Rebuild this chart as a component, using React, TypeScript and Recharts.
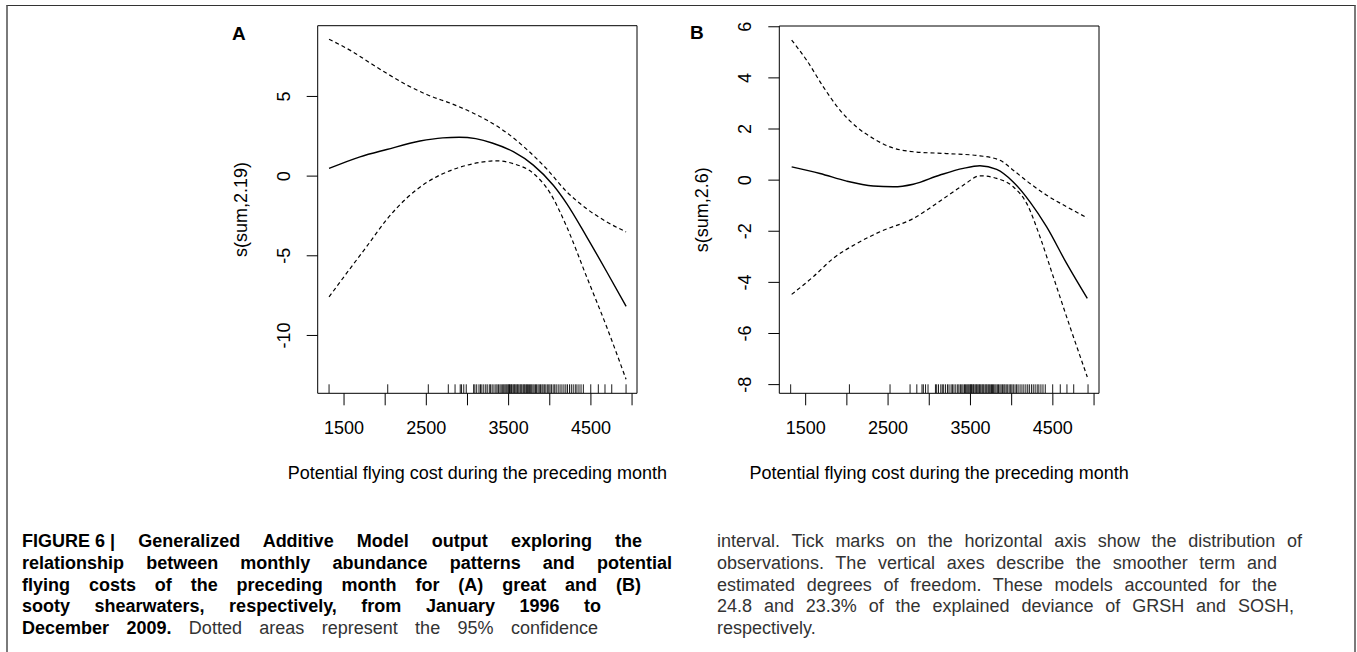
import React from "react";
import {
  ComposedChart, Line, Scatter, XAxis, YAxis, ReferenceArea, Label,
} from "recharts";

// x positions of the observations (rug along the bottom of both panels)
const rugX = [
  1318, 2031, 2524, 2767, 2849, 2912, 2928, 2955, 2985, 3075, 3090, 3112, 3140, 3158,
  3175, 3198, 3222, 3240, 3265, 3281, 3300, 3322, 3345, 3360, 3378, 3395, 3410, 3428,
  3441, 3455, 3468, 3480, 3493, 3502, 3511, 3520, 3533, 3541, 3556, 3568, 3577, 3590,
  3603, 3612, 3625, 3640, 3651, 3662, 3678, 3690, 3701, 3716, 3728, 3740, 3755, 3768,
  3781, 3796, 3810, 3826, 3840, 3857, 3872, 3888, 3905, 3918, 3934, 3952, 3970, 3988,
  4003, 4020, 4041, 4060, 4078, 4102, 4125, 4148, 4172, 4195, 4215, 4240, 4262, 4285,
  4310, 4330, 4355, 4380, 4408, 4498, 4590, 4671, 4753, 4927,
];

const xTicks = [1500, 2000, 2500, 3000, 3500, 4000, 4500, 5000];
const xLabelled = [1500, 2500, 3500, 4500];
const yTicksA = [-10, -5, 0, 5];
const yTicksB = [-8, -6, -4, -2, 0, 2, 4, 6];

// panel A: great shearwater
const fitAx = [1318, 1694, 2019, 2423, 2700, 2900, 3100, 3300, 3557, 3800, 4043, 4206, 4449, 4692, 4927];
const fitAy = [0.48, 1.21, 1.67, 2.2, 2.4, 2.44, 2.35, 2.08, 1.53, 0.69, -0.57, -1.72, -3.81, -6.0, -8.17];
const upAx = [1318, 1613, 1816, 2019, 2262, 2505, 2828, 3031, 3234, 3477, 3720, 3963, 4206, 4449, 4692, 4927];
const upAy = [8.59, 7.78, 7.1, 6.45, 5.72, 5.12, 4.5, 4.05, 3.52, 2.72, 1.68, 0.45, -0.98, -2.05, -2.87, -3.5];
const loAx = [1318, 1529, 1772, 2019, 2262, 2505, 2828, 3071, 3355, 3557, 3800, 4003, 4206, 4449, 4692, 4927];
const loAy = [-7.58, -6.11, -4.44, -2.72, -1.38, -0.4, 0.42, 0.78, 0.96, 0.78, 0.17, -1.05, -3.18, -6.33, -9.47, -12.75];

// panel B: sooty shearwater
const fitBx = [1330, 1674, 1998, 2320, 2563, 2806, 3130, 3413, 3615, 3818, 4019, 4222, 4425, 4667, 4918];
const fitBy = [0.52, 0.26, -0.04, -0.23, -0.26, -0.16, 0.2, 0.46, 0.56, 0.42, -0.07, -0.85, -1.83, -3.26, -4.63];
const upBx = [1330, 1512, 1714, 1916, 2119, 2320, 2523, 2806, 3211, 3615, 3858, 4019, 4222, 4425, 4667, 4918];
const upBy = [5.48, 4.69, 3.65, 2.74, 2.08, 1.63, 1.3, 1.11, 1.04, 0.95, 0.78, 0.39, -0.13, -0.59, -1.04, -1.48];
const loBx = [1330, 1592, 1835, 2119, 2402, 2806, 3090, 3413, 3615, 3818, 4019, 4182, 4344, 4505, 4708, 4918];
const loBy = [-4.47, -3.78, -3.06, -2.48, -2.02, -1.5, -0.91, -0.2, 0.17, 0.07, -0.26, -0.91, -2.22, -3.78, -5.74, -7.7];

const FONT = "'Liberation Sans', Arial, Helvetica, sans-serif";
const X_DOMAIN: [number, number] = [1180, 5060];

const zip = (xs: number[], ys: number[]) => xs.map((x, i) => ({ x, y: ys[i] }));

const XTick = (props: any) => {
  const { x, y, payload } = props;
  if (!xLabelled.includes(payload.value)) return null;
  return (
    <text x={x} y={y + 29} textAnchor="middle" fontSize={18} fontFamily={FONT} fill="#000">
      {payload.value}
    </text>
  );
};

const YTick = (props: any) => {
  const { x, y, payload } = props;
  const bx = x - 17;
  return (
    <text x={bx} y={y} transform={`rotate(-90, ${bx}, ${y})`} textAnchor="middle"
      fontSize={18} fontFamily={FONT} fill="#000">
      {payload.value}
    </text>
  );
};

function GamPanel({ fit, upper, lower, yDomain, yTicks, yTitle, width, margin }: any) {
  const rug = rugX.map((x) => ({ x, y: yDomain[0] }));
  return (
    <ComposedChart width={width} height={500} margin={margin}>
      <XAxis dataKey="x" type="number" domain={X_DOMAIN} allowDataOverflow ticks={xTicks}
        interval={0} tickSize={12} tickMargin={0} axisLine={false}
        tickLine={{ stroke: "#000", strokeWidth: 1 }} tick={<XTick />} height={60}>
        <Label content={(p: any) => {
          const vb = p.viewBox || {};
          return (
            <text x={vb.x + vb.width / 2} y={vb.y + 86} textAnchor="middle" fontSize={18}
              fontFamily={FONT} fill="#000">
              Potential flying cost during the preceding month
            </text>
          );
        }} />
      </XAxis>
      <YAxis dataKey="y" type="number" domain={yDomain} allowDataOverflow ticks={yTicks}
        interval={0} tickSize={11} tickMargin={0} axisLine={false}
        tickLine={{ stroke: "#000", strokeWidth: 1 }} tick={<YTick />} width={60}>
        <Label content={(p: any) => {
          const vb = p.viewBox || {};
          const bx = vb.x + vb.width - 71;
          const cy = vb.y + vb.height / 2;
          return (
            <text x={bx} y={cy} transform={`rotate(-90, ${bx}, ${cy})`} textAnchor="middle"
              fontSize={18} fontFamily={FONT} fill="#000">
              {yTitle}
            </text>
          );
        }} />
      </YAxis>
      <ReferenceArea x1={X_DOMAIN[0]} x2={X_DOMAIN[1]} y1={yDomain[0]} y2={yDomain[1]}
        fill="none" stroke="#000" strokeWidth={1} fillOpacity={0} />
      <Scatter data={rug} dataKey="y" isAnimationActive={false}
        shape={(p: any) => (
          <line x1={p.cx} x2={p.cx} y1={p.cy} y2={p.cy - 9} stroke="#000" strokeWidth={0.9} />
        )} />
      <Line data={upper} dataKey="y" type="monotone" stroke="#000" strokeWidth={1.2}
        strokeDasharray="4 3" dot={false} isAnimationActive={false} />
      <Line data={lower} dataKey="y" type="monotone" stroke="#000" strokeWidth={1.2}
        strokeDasharray="4 3" dot={false} isAnimationActive={false} />
      <Line data={fit} dataKey="y" type="monotone" stroke="#000" strokeWidth={1.4}
        dot={false} isAnimationActive={false} />
    </ComposedChart>
  );
}

// k: keep the spacing inside this piece as it is (not stretched by justification)
const leftLines = [
  { w: 620, parts: [{ t: "FIGURE 6 |", b: true, k: true }, { t: " Generalized Additive Model output exploring the", b: true }] },
  { w: 650, parts: [{ t: "relationship between monthly abundance patterns and potential", b: true }] },
  { w: 619, parts: [{ t: "flying costs of the preceding month for (A) great and (B)", b: true }] },
  { w: 579, parts: [{ t: "sooty shearwaters, respectively, from January 1996 to", b: true }] },
  { w: 576, parts: [{ t: "December 2009.", b: true }, { t: " Dotted areas represent the 95% confidence", b: false }] },
];
const rightLines = [
  { w: 585, parts: [{ t: "interval. Tick marks on the horizontal axis show the distribution of", b: false }] },
  { w: 560, parts: [{ t: "observations. The vertical axes describe the smoother term and", b: false }] },
  { w: 560, parts: [{ t: "estimated degrees of freedom. These models accounted for the", b: false }] },
  { w: 577, parts: [{ t: "24.8 and 23.3% of the explained deviance of GRSH and SOSH,", b: false }] },
  { w: 0, parts: [{ t: "respectively.", b: false }] },
];

function Caption({ lines, left }: any) {
  return (
    <div style={{ position: "absolute", left, top: 531, fontFamily: FONT, fontSize: 18 }}>
      {lines.map((ln: any, i: number) => (
        <div key={i} style={{
          width: ln.w || undefined, height: 21.75, lineHeight: "21.75px",
          textAlign: ln.w ? "justify" : "left", textAlignLast: ln.w ? "justify" : "auto",
          whiteSpace: ln.w ? "normal" : "nowrap",
        }}>
          {ln.parts.map((p: any, j: number) => (
            <span key={j} style={{
              fontWeight: p.b ? 700 : 400, color: p.b ? "#000" : "#333",
              display: p.k ? "inline-block" : "inline", whiteSpace: p.k ? "pre" : undefined,
            }}>{p.t}</span>
          ))}
        </div>
      ))}
    </div>
  );
}

export default function App() {
  return (
    <div style={{ position: "fixed", left: 0, top: 0, width: 1357, height: 652, overflow: "hidden", background: "#fff" }}>
      <div style={{
        position: "absolute", left: 6, top: 5, width: 1350, height: 700, boxSizing: "border-box",
        borderLeft: "2px solid #7a7a7a", borderRight: "2px solid #7a7a7a", borderTop: "1px solid #333",
      }} />
      <div style={{ position: "absolute", left: 0, top: 0 }}>
        <GamPanel fit={zip(fitAx, fitAy)} upper={zip(upAx, upAy)} lower={zip(loAx, loAy)}
          yDomain={[-13.63, 9.44]} yTicks={yTicksA} yTitle="s(sum,2.19)" width={680}
          margin={{ top: 25.7, right: 43, bottom: 46.7, left: 257.7 }} />
      </div>
      <div style={{ position: "absolute", left: 680, top: 0 }}>
        <GamPanel fit={zip(fitBx, fitBy)} upper={zip(upBx, upBy)} lower={zip(loBx, loBy)}
          yDomain={[-8.34, 6.03]} yTicks={yTicksB} yTitle="s(sum,2.6)" width={677}
          margin={{ top: 26, right: 258, bottom: 46.7, left: 39.3 }} />
      </div>
      <div style={{ position: "absolute", left: 232, top: 23, fontFamily: FONT, fontWeight: 700, fontSize: 19, lineHeight: "22px" }}>A</div>
      <div style={{ position: "absolute", left: 690, top: 22, fontFamily: FONT, fontWeight: 700, fontSize: 19, lineHeight: "22px" }}>B</div>
      <Caption lines={leftLines} left={22} />
      <Caption lines={rightLines} left={717} />
    </div>
  );
}
